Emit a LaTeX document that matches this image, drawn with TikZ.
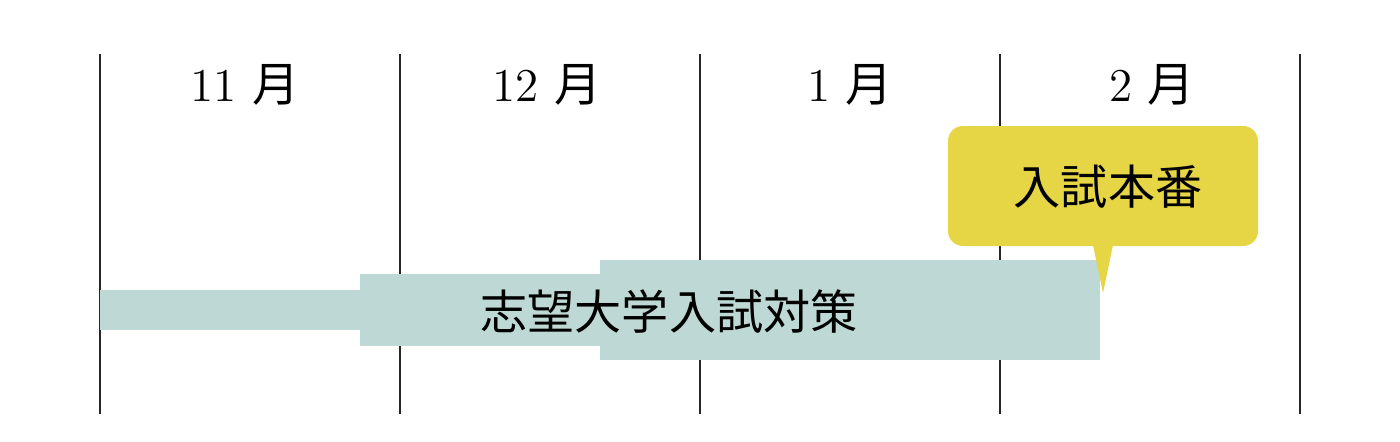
\documentclass[tikz,border=0pt]{standalone}
\usepackage{fontspec}
\newfontfamily\jpfont{Noto Sans CJK JP}
\usepackage{tikz}
\definecolor{barteal}{RGB}{190,217,213}
\definecolor{callyellow}{RGB}{230,213,68}

\begin{document}
\begin{tikzpicture}[x=1cm, y=-1cm,
        month/.style={font=\fontsize{13.4pt}{16pt}\selectfont},
        jptext/.style={font=\fontsize{13.4pt}{16pt}\selectfont\jpfont}]
            \useasboundingbox (0,0) rectangle (14,4.41);

            % month grid
            \foreach \x in {1,4,7,10,13}
                \draw[line width=0.6pt, black!85] (\x,0.54) -- (\x,4.14);

            \node[month] (nov) at (2.45,0.85) {11 {\jpfont 月}};
            \node[month] (dec) at (5.47,0.85) {12 {\jpfont 月}};
            \node[month] (jan) at (8.50,0.85) {1 {\jpfont 月}};
            \node[month] (feb) at (11.52,0.85) {2 {\jpfont 月}};

            % stepped bar
            \fill[barteal] (1.0,2.90) rectangle (3.6,3.30);
            \fill[barteal] (3.6,2.74) rectangle (6.0,3.46);
            \fill[barteal] (6.0,2.60) rectangle (11.0,3.60);
            \node[jptext] (prep) at (6.69,3.12) {志望大学入試対策};

            % callout
            \fill[callyellow, rounded corners=0.15cm] (9.48,1.26) rectangle (12.58,2.46);
            \fill[callyellow] (10.93,2.45) -- (11.13,2.45) -- (11.03,2.93) -- cycle;
            \node[jptext] (exam) at (11.08,1.87) {入試本番};
        \end{tikzpicture}
\end{document}
